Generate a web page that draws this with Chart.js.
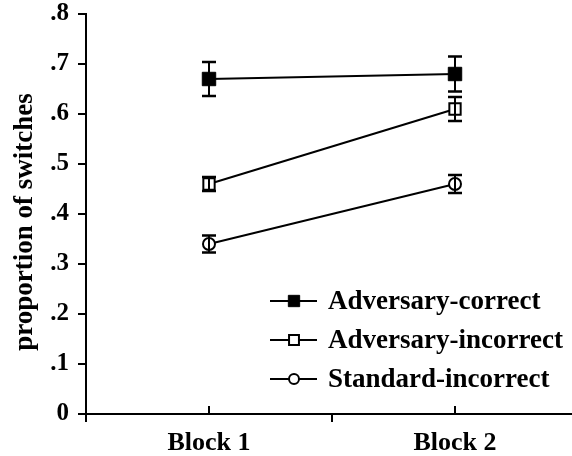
<!DOCTYPE html>
<html><head><meta charset="utf-8">
<script src="https://cdn.jsdelivr.net/npm/chart.js@4"></script>
<style>html,body{margin:0;padding:0;background:#fff;overflow:hidden}</style>
</head><body>
<canvas id="c" width="572" height="456"></canvas>
<script>
// Proportion of switches per block, with standard-error bars
const blocks = ['Block 1', 'Block 2'];
const blockPos = [1, 2];
const seriesNames = ['Adversary-correct', 'Adversary-incorrect', 'Standard-incorrect'];
const advCorrect = [0.67, 0.68];
const advCorrectErr = [0.034, 0.035];
const advIncorrect = [0.46, 0.61];
const advIncorrectErr = [0.014, 0.024];
const stdIncorrect = [0.34, 0.46];
const stdIncorrectErr = [0.017, 0.018];
const yTickLabels = ['0', '.1', '.2', '.3', '.4', '.5', '.6', '.7', '.8'];
const yTitle = 'proportion of switches';

const FONT = '"Liberation Serif", "Times New Roman", serif';

function pts(vals) { return blockPos.map((x, i) => ({ x: x, y: vals[i] })); }

const errorBars = {
  id: 'errorBars',
  afterDatasetsDraw(chart) {
    const ctx = chart.ctx, ys = chart.scales.y;
    chart.data.datasets.forEach((ds, di) => {
      const meta = chart.getDatasetMeta(di);
      meta.data.forEach((el, i) => {
        const v = ds.data[i].y, e = ds.errors[i];
        const top = ys.getPixelForValue(v + e), bot = ys.getPixelForValue(v - e);
        ctx.save();
        ctx.strokeStyle = '#000';
        ctx.lineWidth = 2;
        ctx.beginPath();
        ctx.moveTo(el.x, top); ctx.lineTo(el.x, bot);
        ctx.stroke();
        ctx.lineWidth = 2.5;
        ctx.beginPath();
        ctx.moveTo(el.x - 7, top); ctx.lineTo(el.x + 7, top);
        ctx.moveTo(el.x - 7, bot); ctx.lineTo(el.x + 7, bot);
        ctx.stroke();
        ctx.restore();
      });
    });
  }
};

// x-axis tick marks: upward at each block, downward at block boundaries;
// plus the rotated y-axis title
const axisExtras = {
  id: 'axisExtras',
  afterDraw(chart) {
    const ctx = chart.ctx, xs = chart.scales.x, y0 = chart.chartArea.bottom;
    ctx.save();
    ctx.strokeStyle = '#000';
    ctx.lineWidth = 2;
    ctx.beginPath();
    blockPos.forEach(p => {
      const x = Math.round(xs.getPixelForValue(p));
      ctx.moveTo(x, y0); ctx.lineTo(x, y0 - 8);
    });
    [0.5, 1.5].forEach(p => {
      const x = Math.round(xs.getPixelForValue(p));
      ctx.moveTo(x, y0); ctx.lineTo(x, y0 + 8);
    });
    ctx.stroke();
    ctx.translate(25, 222);
    ctx.rotate(-Math.PI / 2);
    ctx.fillStyle = '#000';
    ctx.font = 'bold 27px ' + FONT;
    ctx.textAlign = 'center';
    ctx.textBaseline = 'middle';
    ctx.fillText(yTitle, 0, 0);
    ctx.restore();
  }
};

const insetLegend = {
  id: 'insetLegend',
  afterDraw(chart) {
    const ctx = chart.ctx;
    const legendSizes = [8, 7, 5];
    ctx.save();
    chart.data.datasets.forEach((ds, i) => {
      const y = 301 + i * 39;
      ctx.strokeStyle = '#000';
      ctx.lineWidth = 2;
      ctx.beginPath();
      ctx.moveTo(270, y); ctx.lineTo(317, y);
      ctx.stroke();
      ctx.fillStyle = ds.pointBackgroundColor;
      ctx.strokeStyle = '#000';
      ctx.lineWidth = ds.pointBorderWidth;
      Chart.helpers.drawPoint(ctx, { pointStyle: ds.pointStyle, radius: legendSizes[i], borderWidth: ds.pointBorderWidth, rotation: 0 }, 294, y);
      ctx.fillStyle = '#000';
      ctx.font = 'bold 27px ' + FONT;
      ctx.textBaseline = 'middle';
      ctx.textAlign = 'left';
      ctx.fillText(ds.label, 328, y + 1);
    });
    ctx.restore();
  }
};

new Chart(document.getElementById('c'), {
  type: 'line',
  data: {
    datasets: [
      { label: seriesNames[0], data: pts(advCorrect), errors: advCorrectErr,
        borderColor: '#000', borderWidth: 2, pointStyle: 'rect', pointRadius: 9.5,
        pointBackgroundColor: '#000', pointBorderColor: '#000', pointBorderWidth: 1 },
      { label: seriesNames[1], data: pts(advIncorrect), errors: advIncorrectErr,
        borderColor: '#000', borderWidth: 2, pointStyle: 'rect', pointRadius: 8,
        pointBackgroundColor: '#fff', pointBorderColor: '#000', pointBorderWidth: 2 },
      { label: seriesNames[2], data: pts(stdIncorrect), errors: stdIncorrectErr,
        borderColor: '#000', borderWidth: 2, pointStyle: 'circle', pointRadius: 6,
        pointBackgroundColor: '#fff', pointBorderColor: '#000', pointBorderWidth: 2 }
    ]
  },
  options: {
    responsive: false,
    animation: false,
    layout: { autoPadding: false, padding: { top: 14, right: 0, bottom: 0, left: 0 } },
    plugins: { legend: { display: false }, tooltip: { enabled: false } },
    scales: {
      x: {
        type: 'linear', min: 0.5, max: 2.4756,
        afterBuildTicks: s => { s.ticks = blockPos.map(v => ({ value: v })); },
        afterFit: s => { s.height = 42; s.paddingLeft = 0; s.paddingRight = 0; },
        ticks: {
          callback: v => blocks[blockPos.indexOf(v)],
          font: { family: FONT, size: 26, weight: 'bold' }, color: '#000', padding: 14, maxRotation: 0
        },
        grid: { display: false, drawTicks: false },
        border: { display: true, color: '#000', width: 2 }
      },
      y: {
        min: 0, max: 0.8,
        afterBuildTicks: s => { s.ticks = yTickLabels.map((t, i) => ({ value: i / 10 })); },
        afterFit: s => { s.width = 86; s.paddingTop = 0; s.paddingBottom = 0; },
        ticks: {
          callback: (v, i) => yTickLabels[i],
          font: { family: FONT, size: 25, weight: 'bold' }, color: '#000', padding: 9
        },
        grid: { drawOnChartArea: false, drawTicks: true, tickLength: 8, color: '#000', lineWidth: 2 },
        border: { display: true, color: '#000', width: 2 }
      }
    }
  },
  plugins: [errorBars, axisExtras, insetLegend]
});
</script>
</body></html>
